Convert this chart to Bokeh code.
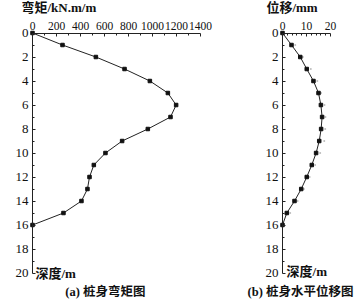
from bokeh.plotting import figure
from bokeh.layouts import row
from bokeh.models import Range1d, FixedTicker, Label
from bokeh.embed import file_html
from bokeh.resources import INLINE

# ---- data ----
depth = [0, 1, 2, 3, 4, 5, 6, 7, 8, 9, 10, 11, 12, 13, 14, 15, 16]
moment = [0, 250, 528, 767, 978, 1128, 1197, 1150, 961, 747, 608, 511, 475, 458, 408, 258, 0]
disp = [0, 3.75, 7.4, 10.1, 12.9, 15.0, 16.0, 16.5, 16.1, 15.3, 14.0, 12.2, 10.1, 7.8, 5.0, 1.8, 0]
disp_depth2 = [1, 2, 3, 4, 5, 6, 7, 8, 9, 10, 11, 12, 13, 14, 15]
disp2 = [5.3, 8.5, 11.8, 14.5, 16.1, 17.5, 17.9, 17.8, 17.4, 15.7, 13.6, 11.3, 8.9, 6.3, 3.2]

m_ticks = [0, 200, 400, 600, 800, 1000, 1200, 1400]
m_minor = [100, 300, 500, 700, 900, 1100, 1300]
d_ticks = [0, 10, 20]
d_minor = [2, 4, 6, 8, 12, 14, 16, 18]
y_ticks = [0, 2, 4, 6, 8, 10, 12, 14, 16, 18, 20]
y_minor = [1, 3, 5, 7, 9, 11, 13, 15, 17, 19]

SERIF = "'Liberation Serif', 'Times New Roman', serif"
MIX = "'Liberation Serif', 'Noto Sans CJK SC', serif"

H = 299
TOP = 32.5      # pixel row of depth 0
PX_PER_M = 12.0  # pixels per metre of depth


def make_fig(width, x0_px, px_per_unit, xbounds, xticks, xminor):
    xr = (-x0_px / px_per_unit, (width - x0_px) / px_per_unit)
    yr = ((H - TOP) / PX_PER_M, -TOP / PX_PER_M)
    p = figure(width=width, height=H, output_backend="svg", toolbar_location=None,
               x_range=Range1d(*xr), y_range=Range1d(*yr),
               x_axis_location="above", min_border=0,
               min_border_left=0, min_border_right=0, min_border_top=0, min_border_bottom=0)
    p.outline_line_color = None
    p.grid.visible = False
    p.background_fill_color = "white"
    p.border_fill_color = "white"
    for ax, ticks, minor, bounds in ((p.xaxis[0], xticks, xminor, xbounds),
                                     (p.yaxis[0], y_ticks, y_minor, (0, 20))):
        ax.ticker = FixedTicker(ticks=ticks, minor_ticks=minor)
        ax.fixed_location = 0
        ax.bounds = bounds
        ax.major_tick_in = 3
        ax.major_tick_out = 0
        ax.minor_tick_in = 2
        ax.minor_tick_out = 0
        ax.axis_line_color = "#222222"
        ax.major_tick_line_color = "#222222"
        ax.minor_tick_line_color = "#222222"
        ax.major_label_text_font = SERIF
        ax.major_label_text_color = "#111111"
    p.xaxis.major_label_text_font_size = "11.5px"
    p.xaxis.major_label_standoff = 3
    p.yaxis.major_label_text_font_size = "13px"
    p.yaxis.major_label_standoff = 4
    return p


def add_text(p, x, y, text, align="left", size="13px"):
    p.add_layout(Label(x=x, y=y, text=text, text_font=MIX, text_font_size=size,
                       text_font_style="bold", text_baseline="middle", text_align=align,
                       text_color="#111111"))


# ---- left: bending moment ----
p1 = make_fig(240, 32.0, 0.12, (0, 1400), m_ticks, m_minor)
p1.line(moment, depth, line_color="#222222", line_width=1)
p1.scatter(moment, depth, marker="square", size=3.5, fill_color="#111111", line_color="#111111")
add_text(p1, -92, -2.1, "弯矩/kN.m/m")
add_text(p1, 25, 20.0, "深度/m")
add_text(p1, 608, 21.55, "(a) 桩身弯矩图", "center", "12.5px")

# ---- right: horizontal displacement ----
p2 = make_fig(114, 42.0, 2.4, (0, 20), d_ticks, d_minor)
p2.scatter(disp2, disp_depth2, marker="circle", size=2, fill_color="#bbbbbb", line_color=None)
p2.line(disp, depth, line_color="#222222", line_width=1)
p2.scatter(disp, depth, marker="square", size=3.5, fill_color="#111111", line_color="#111111")
add_text(p2, -6.7, -2.1, "位移/mm")
add_text(p2, 1.7, 19.9, "深度/m")
add_text(p2, 7.5, 21.55, "(b) 桩身水平位移图", "center", "12.5px")

layout = row(p1, p2, spacing=0)
open("out.html", "w").write(file_html(layout, INLINE))
